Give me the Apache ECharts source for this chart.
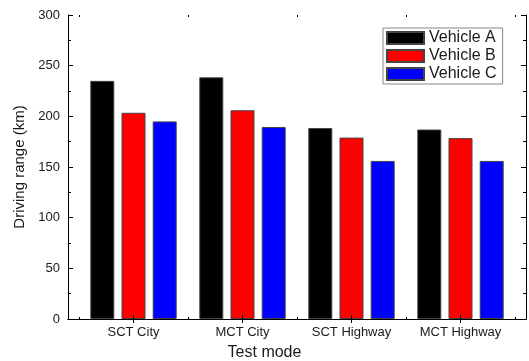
<!DOCTYPE html>
<html>
<head>
<meta charset="utf-8">
<script src="https://cdn.jsdelivr.net/npm/echarts@6/dist/echarts.min.js"></script>
<style>
  html, body { margin: 0; padding: 0; background: #fff; }
  #chart { width: 529px; height: 361px; }
</style>
</head>
<body>
<div id="chart"></div>
<script>
// Test modes and driving range (km) for each vehicle
const categories = ['SCT City', 'MCT City', 'SCT Highway', 'MCT Highway'];
const vehicleA = [235, 238.5, 188.5, 187];
const vehicleB = [203.5, 206, 179, 178.5];
const vehicleC = [195, 189.5, 156, 156];
const seriesNames = ['Vehicle A', 'Vehicle B', 'Vehicle C'];
const seriesColors = ['#000000', '#ff0000', '#0000ff'];
const yTicks = [0, 50, 100, 150, 200, 250, 300];

const FONT = '"Liberation Sans", Arial, sans-serif';
const INK = '#1a1a1a';

const chart = echarts.init(document.getElementById('chart'), null, { renderer: 'canvas' });

// Frame axes (grid 0) span the whole box; bars sit in grid 1, inset so
// category centres land at 1..4 on the frame's 0.4..4.6 scale.
const frameX = (position) => ({
  type: 'value', gridIndex: 0, position: position,
  min: 0.4, max: 4.6, z: 10,
  axisLine: { show: true, lineStyle: { color: '#000', width: 1 } },
  axisTick: { show: true, inside: true, length: 4, customValues: [1, 2, 3, 4], lineStyle: { color: '#000' } },
  axisLabel: { show: false },
  splitLine: { show: false }
});

const innerX = (position, withLabels) => ({
  type: 'category', gridIndex: 1, position: position, data: categories, z: 10,
  axisLine: { show: false },
  axisTick: { show: true, inside: true, length: 2, lineStyle: { color: '#000' } },
  axisLabel: withLabels
    ? { show: true, color: INK, fontFamily: FONT, fontSize: 13, margin: 7 }
    : { show: false },
  splitLine: { show: false }
});

const frameY = (position, withLabels) => ({
  type: 'value', gridIndex: 0, position: position,
  min: yTicks[0], max: yTicks[yTicks.length - 1], interval: 50, z: 10,
  axisLine: { show: true, lineStyle: { color: '#000', width: 1 } },
  axisTick: { show: true, inside: true, length: 5, lineStyle: { color: '#000' } },
  minorTick: { show: true, splitNumber: 2, length: 3, lineStyle: { color: '#000' } },
  axisLabel: withLabels
    ? { show: true, color: INK, fontFamily: FONT, fontSize: 13, margin: 8 }
    : { show: false },
  splitLine: { show: false },
  name: withLabels ? 'Driving range (km)' : '',
  nameLocation: 'middle',
  nameGap: 40,
  nameTextStyle: { color: INK, fontFamily: FONT, fontSize: 15 }
});

const makeBar = (name, values, color) => ({
  name: name,
  type: 'bar',
  xAxisIndex: 2,
  yAxisIndex: 2,
  data: values,
  barWidth: 24,
  barGap: '30%',
  itemStyle: { color: color, borderColor: '#444', borderWidth: 1 }
});

chart.setOption({
  animation: false,
  backgroundColor: '#ffffff',
  grid: [
    { left: 68, right: 3, top: 15, bottom: 42 },
    { left: 79, right: 14, top: 15, bottom: 42 }
  ],
  xAxis: [
    frameX('bottom'),
    frameX('top'),
    innerX('bottom', true),
    innerX('top', false)
  ],
  yAxis: [
    frameY('left', true),
    frameY('right', false),
    { type: 'value', gridIndex: 1, min: 0, max: 300, show: false }
  ],
  legend: {
    orient: 'vertical',
    left: 383,
    top: 28,
    data: seriesNames,
    icon: 'rect',
    itemWidth: 37,
    itemHeight: 12,
    itemGap: 2,
    selectedMode: false,
    padding: [2, 6, 2, 3],
    borderColor: '#888',
    borderWidth: 1,
    backgroundColor: '#fff',
    textStyle: { color: INK, fontFamily: FONT, fontSize: 16, padding: [0, 0, 0, 0] }
  },
  graphic: [{
    type: 'text',
    left: 'center',
    top: 345,
    style: { text: 'Test mode', fill: INK, font: '16px ' + FONT }
  }],
  series: [
    makeBar(seriesNames[0], vehicleA, seriesColors[0]),
    makeBar(seriesNames[1], vehicleB, seriesColors[1]),
    makeBar(seriesNames[2], vehicleC, seriesColors[2])
  ]
});
</script>
</body>
</html>
